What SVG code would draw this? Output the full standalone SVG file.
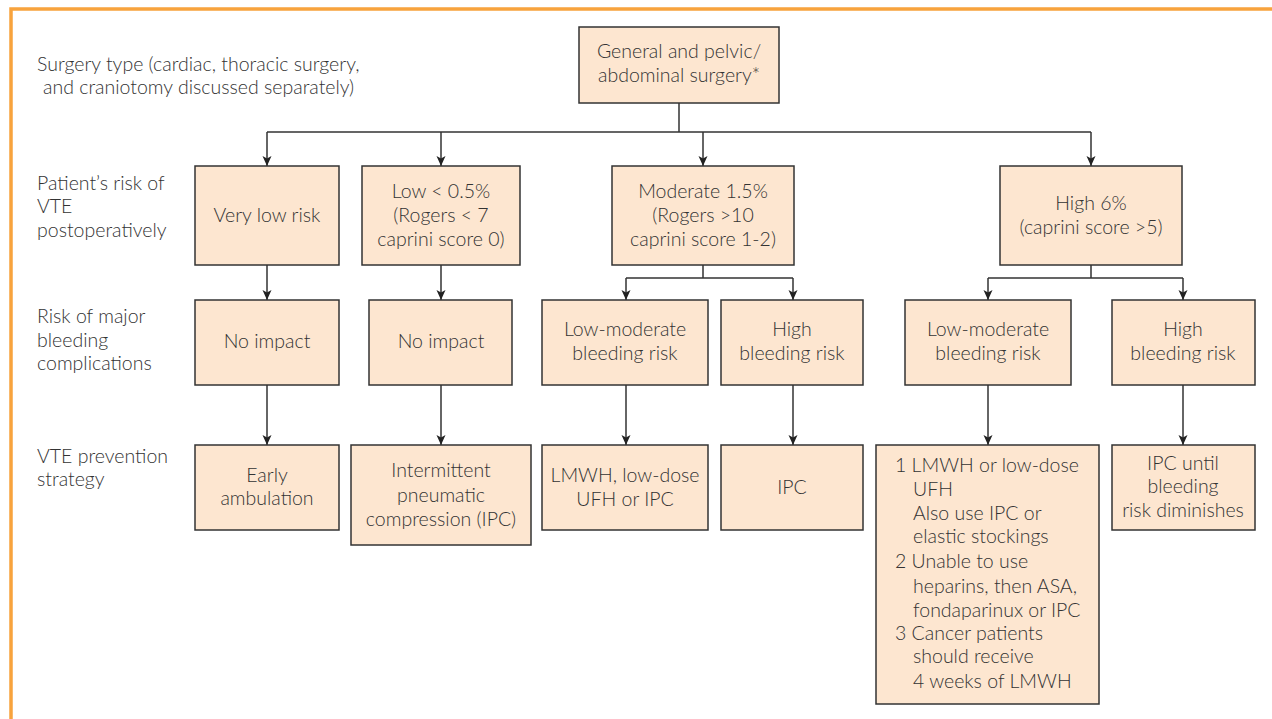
<svg xmlns="http://www.w3.org/2000/svg" width="1272" height="719" viewBox="0 0 1272 719">
<style>
.frame{fill:none;stroke:#F8A33D;stroke-width:3.5}
.box{fill:#FDE6D0;stroke:#333;stroke-width:1.5}
.t{font-family:Lato,"Liberation Sans",sans-serif;font-size:19.5px;font-weight:300;fill:#333}
.c{text-anchor:middle}
.ln{fill:none;stroke:#333;stroke-width:1.5}
.ar{fill:none;stroke:#333;stroke-width:1.5;marker-end:url(#ah)}
</style>
<defs>
<marker id="ah" markerUnits="userSpaceOnUse" markerWidth="10" markerHeight="10" refX="10" refY="5" orient="auto">
<path d="M0,0.5 L10,5 L0,9.5 L2.5,5 z" fill="#222"/>
</marker>
</defs>
<rect width="1272" height="719" fill="#fff"/>
<path class="frame" d="M11,719 V9 H1272"/>

<g id="labels">
<text class="t" x="37" y="71">Surgery type (cardiac, thoracic surgery,</text>
<text class="t" x="43" y="94">and craniotomy discussed separately)</text>
<text class="t" x="37" y="190">Patient’s risk of</text>
<text class="t" x="37" y="213">VTE</text>
<text class="t" x="37" y="237">postoperatively</text>
<text class="t" x="37" y="323">Risk of major</text>
<text class="t" x="37" y="347">bleeding</text>
<text class="t" x="37" y="370">complications</text>
<text class="t" x="37" y="463">VTE prevention</text>
<text class="t" x="37" y="486">strategy</text>
</g>

<g id="connectors">
<path class="ln" d="M679,103 V132 M267,132 H1091"/>
<path class="ar" d="M267,132 V166"/>
<path class="ar" d="M441,132 V166"/>
<path class="ar" d="M703,132 V166"/>
<path class="ar" d="M1091,132 V166"/>
<path class="ar" d="M267,265 V300"/>
<path class="ar" d="M441,265 V300"/>
<path class="ln" d="M703,265 V278 M626,278 H793"/>
<path class="ar" d="M626,278 V300"/>
<path class="ar" d="M793,278 V300"/>
<path class="ln" d="M1091,265 V278 M988,278 H1183"/>
<path class="ar" d="M988,278 V300"/>
<path class="ar" d="M1183,278 V300"/>
<path class="ar" d="M267,385 V445"/>
<path class="ar" d="M441,385 V445"/>
<path class="ar" d="M626,385 V445"/>
<path class="ar" d="M793,385 V445"/>
<path class="ar" d="M988,385 V445"/>
<path class="ar" d="M1183,385 V445"/>
</g>

<g id="n-top">
<rect class="box" x="579" y="27" width="200" height="76"/>
<text class="t c" x="679" y="58">General and pelvic/</text>
<text class="t c" x="679" y="82">abdominal surgery*</text>
</g>

<g id="n-verylow">
<rect class="box" x="195" y="166" width="144" height="99"/>
<text class="t c" x="267" y="222">Very low risk</text>
</g>
<g id="n-low">
<rect class="box" x="362" y="166" width="158" height="99"/>
<text class="t c" x="441" y="198">Low &lt; 0.5%</text>
<text class="t c" x="441" y="222">(Rogers &lt; 7</text>
<text class="t c" x="441" y="246">caprini score 0)</text>
</g>
<g id="n-moderate">
<rect class="box" x="612" y="166" width="182" height="99"/>
<text class="t c" x="703" y="198">Moderate 1.5%</text>
<text class="t c" x="703" y="222">(Rogers &gt;10</text>
<text class="t c" x="703" y="246">caprini score 1-2)</text>
</g>
<g id="n-high">
<rect class="box" x="1000" y="166" width="182" height="99"/>
<text class="t c" x="1091" y="210">High 6%</text>
<text class="t c" x="1091" y="234">(caprini score &gt;5)</text>
</g>

<g id="n-noimpact1">
<rect class="box" x="195" y="300" width="144" height="85"/>
<text class="t c" x="267" y="348">No impact</text>
</g>
<g id="n-noimpact2">
<rect class="box" x="369" y="300" width="143" height="85"/>
<text class="t c" x="441" y="348">No impact</text>
</g>
<g id="n-mod-lowbleed">
<rect class="box" x="542" y="300" width="166" height="85"/>
<text class="t c" x="625" y="336">Low-moderate</text>
<text class="t c" x="625" y="360">bleeding risk</text>
</g>
<g id="n-mod-highbleed">
<rect class="box" x="721" y="300" width="142" height="85"/>
<text class="t c" x="792" y="336">High</text>
<text class="t c" x="792" y="360">bleeding risk</text>
</g>
<g id="n-high-lowbleed">
<rect class="box" x="905" y="300" width="166" height="85"/>
<text class="t c" x="988" y="336">Low-moderate</text>
<text class="t c" x="988" y="360">bleeding risk</text>
</g>
<g id="n-high-highbleed">
<rect class="box" x="1112" y="300" width="143" height="85"/>
<text class="t c" x="1183" y="336">High</text>
<text class="t c" x="1183" y="360">bleeding risk</text>
</g>

<g id="n-early">
<rect class="box" x="195" y="445" width="144" height="85"/>
<text class="t c" x="267" y="482">Early</text>
<text class="t c" x="267" y="505">ambulation</text>
</g>
<g id="n-ipc1">
<rect class="box" x="351" y="445" width="180" height="100"/>
<text class="t c" x="441" y="477">Intermittent</text>
<text class="t c" x="441" y="502">pneumatic</text>
<text class="t c" x="441" y="526">compression (IPC)</text>
</g>
<g id="n-lmwh">
<rect class="box" x="542" y="445" width="166" height="85"/>
<text class="t c" x="625" y="482">LMWH, low-dose</text>
<text class="t c" x="625" y="506">UFH or IPC</text>
</g>
<g id="n-ipc2">
<rect class="box" x="721" y="445" width="142" height="85"/>
<text class="t c" x="792" y="494">IPC</text>
</g>
<g id="n-list">
<rect class="box" x="876" y="445" width="223" height="259"/>
<text class="t" x="895" y="472">1 LMWH or low-dose</text>
<text class="t" x="913" y="496">UFH</text>
<text class="t" x="913" y="520">Also use IPC or</text>
<text class="t" x="913" y="543">elastic stockings</text>
<text class="t" x="895" y="568">2 Unable to use</text>
<text class="t" x="913" y="593">heparins, then ASA,</text>
<text class="t" x="913" y="617">fondaparinux or IPC</text>
<text class="t" x="895" y="640">3 Cancer patients</text>
<text class="t" x="913" y="663">should receive</text>
<text class="t" x="913" y="688">4 weeks of LMWH</text>
</g>
<g id="n-ipc3">
<rect class="box" x="1112" y="445" width="143" height="85"/>
<text class="t c" x="1183" y="470">IPC until</text>
<text class="t c" x="1183" y="493">bleeding</text>
<text class="t c" x="1183" y="517">risk diminishes</text>
</g>
</svg>
